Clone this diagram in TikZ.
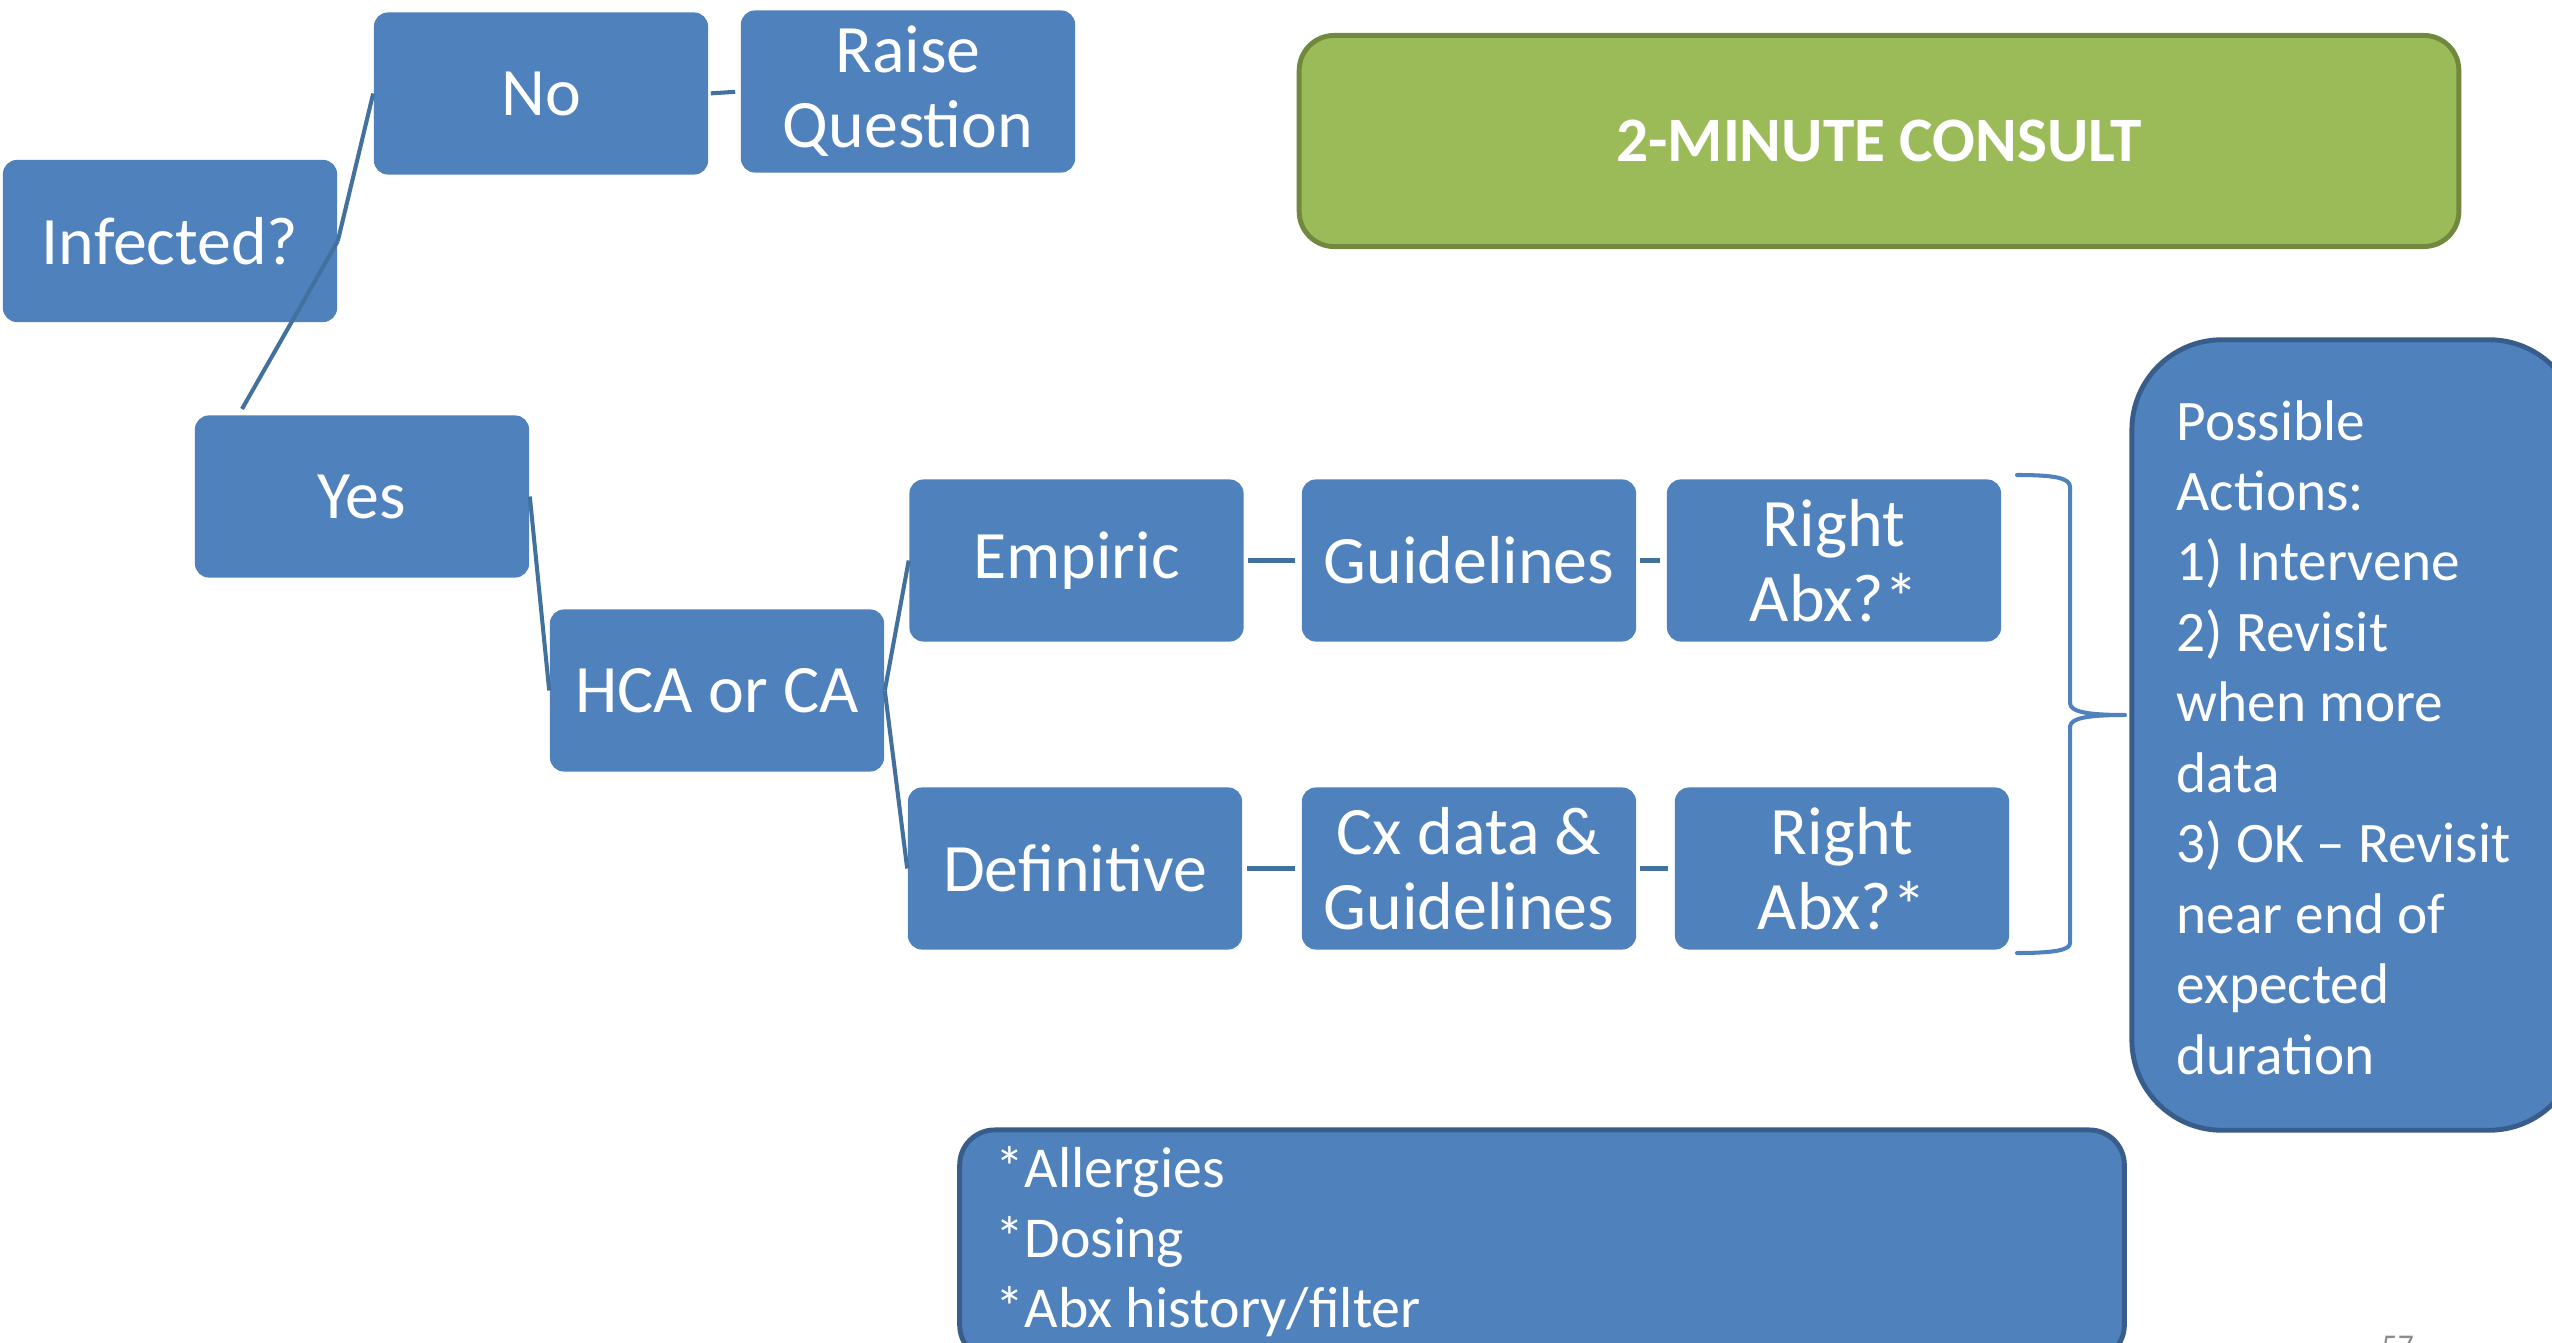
\documentclass[tikz,border=0pt]{standalone}
\usepackage{fontspec}
\setmainfont{Carlito}
\definecolor{boxblue}{HTML}{4F81BD}
\definecolor{linkblue}{HTML}{41719C}
\definecolor{edgeblue}{HTML}{385D8A}
\definecolor{consgreen}{HTML}{9BBB59}
\definecolor{consedge}{HTML}{71893F}
\definecolor{pagegray}{HTML}{8C8C8C}
\begin{document}
\begin{tikzpicture}[x=0.01cm,y=-0.01cm,
  box/.style={rectangle, rounded corners=0.14cm, fill=boxblue, text=white,
    align=center, minimum width=3.34cm, minimum height=1.62cm, inner sep=0pt,
    font=\fontsize{19.3}{21.3}\selectfont},
  link/.style={draw=linkblue, line width=1.15pt},
  bigbox/.style={rectangle, fill=boxblue, draw=edgeblue, line width=1.4pt, inner sep=0pt},
  listtext/.style={text=white, align=left, inner sep=0pt, anchor=base west},
  bracestyle/.style={draw=boxblue, line width=1.15pt, line join=round, line cap=round}]
\useasboundingbox (0,0) rectangle (2552,1343);
\clip (0,0) rectangle (2552,1343);
\fill[white] (0,0) rectangle (2552,1343);

% flow boxes
\node[box] (inf)   at (170,241)    {Infected?};
\node[box] (no)    at (541,93.5)   {No};
\node[box] (raise) at (908,91.5)   {Raise\\Question};
\node[box] (yes)   at (362,496.5)  {Yes};
\node[box] (hca)   at (717,690.5)  {HCA or CA};
\node[box] (emp)   at (1076.5,560.5) {Empiric};
\node[box] (guide) at (1469,560.5) {Guidelines};
\node[box] (rabxa) at (1834,560.5) {Right\\Abx?*};
\node[box] (defi)  at (1075,868.5) {Definitive};
\node[box] (cx)    at (1469,868.5) {Cx data \&\\Guidelines};
\node[box] (rabxb) at (1842,868.5) {Right\\Abx?*};

% title box
\node[rectangle, rounded corners=0.35cm, fill=consgreen, draw=consedge, line width=1.4pt,
  minimum width=11.59cm, minimum height=2.11cm, text=white,
  font=\fontsize{18}{21}\selectfont\bfseries] (title) at (1879,141) {2-MINUTE CONSULT};

% possible actions box
\node[bigbox, rounded corners=0.9cm, minimum width=4.47cm, minimum height=7.9cm] (acts) at (2355.5,735) {};
\node[listtext, font=\fontsize{16.3}{20.03}\selectfont] (actstext) at (2176,1074)
  {Possible\\Actions:\\1) Intervene\\2) Revisit\\when more\\data\\3) OK -- Revisit\\near end of\\expected\\duration};

% notes box
\node[bigbox, rounded corners=0.35cm, minimum width=11.64cm, minimum height=2.3cm] (notes) at (1542,1245) {};
\node[listtext, font=\fontsize{16.45}{19.9}\selectfont] (notestext) at (995,1327)
  {*Allergies\\*Dosing\\*Abx history/filter};

% page number
\node[anchor=north west, inner sep=0pt, text=pagegray, font=\fontsize{9}{10}\selectfont] (pnum) at (2381,1335) {57};

% connectors
\coordinate (yestop) at (242,409);
\draw[link] (inf.east) -- (no.west);
\draw[link] (inf.east) -- (yestop);
\draw[link, shorten <=0.02cm, shorten >=0.05cm] (no.east) -- (raise.west);
\draw[link] (yes.east) -- (hca.west);
\draw[link] (hca.east) -- (emp.west);
\draw[link] (hca.east) -- (defi.west);
\draw[link, shorten <=0.04cm, shorten >=0.06cm] (emp.east) -- (guide.west);
\draw[link, shorten <=0.03cm, shorten >=0.06cm] (guide.east) -- (rabxa.west);
\draw[link, shorten <=0.04cm, shorten >=0.06cm] (defi.east) -- (cx.west);
\draw[link, shorten <=0.03cm, shorten >=0.06cm] (cx.east) -- (rabxb.west);

% brace
\draw[bracestyle] (2017,475) .. controls (2055,475) and (2070,478) .. (2070,487)
  -- (2070,703) .. controls (2070,712) and (2088,715) .. (2125,715)
  .. controls (2088,715) and (2070,718) .. (2070,727)
  -- (2070,943) .. controls (2070,950) and (2055,953) .. (2017,953);
\end{tikzpicture}
\end{document}
